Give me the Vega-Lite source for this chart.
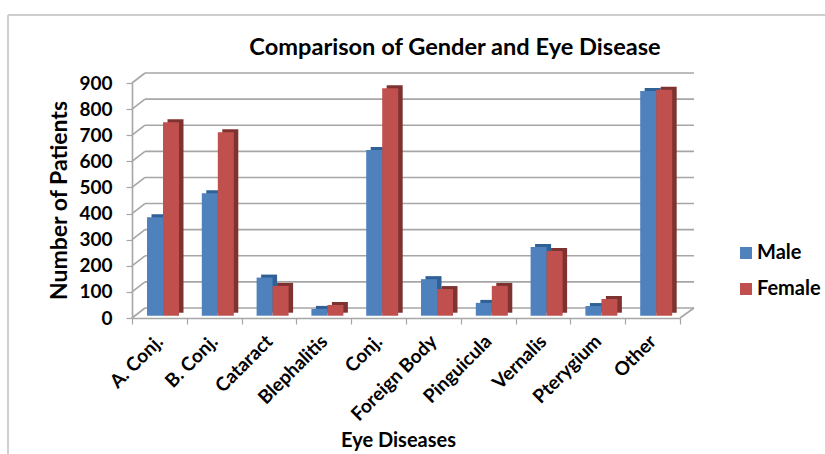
{
"$schema":"https://vega.github.io/schema/vega-lite/v6.json",
"width":548,"height":235,
"autosize":{"type":"none"},
"padding":{"left":132,"top":83,"right":145,"bottom":136},
"background":"white",
"title":{"text":"Comparison of Gender and Eye Disease","font":"Lato","fontWeight":"bold","fontSize":23.6,"color":"#000","anchor":"middle","dx":49,"offset":-45},
"datasets":{
"bars":[
{"disease":"A. Conj.","gender":"Male","patients":377},{"disease":"A. Conj.","gender":"Female","patients":741},
{"disease":"B. Conj.","gender":"Male","patients":469},{"disease":"B. Conj.","gender":"Female","patients":703},
{"disease":"Cataract","gender":"Male","patients":146},{"disease":"Cataract","gender":"Female","patients":114},
{"disease":"Blephalitis","gender":"Male","patients":26},{"disease":"Blephalitis","gender":"Female","patients":41},
{"disease":"Conj.","gender":"Male","patients":635},{"disease":"Conj.","gender":"Female","patients":871},
{"disease":"Foreign Body","gender":"Male","patients":140},{"disease":"Foreign Body","gender":"Female","patients":102},
{"disease":"Pinguicula","gender":"Male","patients":49},{"disease":"Pinguicula","gender":"Female","patients":114},
{"disease":"Vernalis","gender":"Male","patients":263},{"disease":"Vernalis","gender":"Female","patients":248},
{"disease":"Pterygium","gender":"Male","patients":37},{"disease":"Pterygium","gender":"Female","patients":64},
{"disease":"Other","gender":"Male","patients":861},{"disease":"Other","gender":"Female","patients":865}
],
"grid":[{"v":0},{"v":100},{"v":200},{"v":300},{"v":400},{"v":500},{"v":600},{"v":700},{"v":800},{"v":900}]
},
"layer":[
{"data":{"values":[{"a":1}]},
 "mark":{"type":"rule","color":"#BFBFBF","strokeWidth":1.5},
 "encoding":{"x":{"value":-124},"x2":{"value":700},"y":{"value":-68}}},
{"data":{"values":[{"a":1}]},
 "mark":{"type":"rule","color":"#BFBFBF","strokeWidth":1.5},
 "encoding":{"x":{"value":-124},"y":{"value":-68},"y2":{"value":380}}},
{"data":{"name":"grid"},
 "mark":{"type":"rule","color":"#A6A6A6","strokeWidth":1.6,"xOffset":13,"x2Offset":14,"yOffset":-10,"y2Offset":-10},
 "encoding":{"x":{"value":0},"x2":{"value":548},
  "y":{"field":"v","type":"quantitative","scale":{"domain":[0,900],"nice":false},
   "axis":{"title":"Number of Patients","titleFont":"Lato","titleFontSize":23,"titleFontWeight":"bold","titleColor":"#000","titleX":-61,"titleY":117,
    "values":[0,100,200,300,400,500,600,700,800,900],"labelFont":"Lato","labelFontSize":19,"labelFontWeight":"bold","labelColor":"#000","labelPadding":14,"labelOverlap":false,"labelBound":false,"labelFlush":false,
    "grid":false,"domainColor":"#A6A6A6","domainWidth":1.6,"tickColor":"#A6A6A6","tickWidth":1.2,"tickSize":6}}}},
{"data":{"name":"grid"},
 "mark":{"type":"rule","color":"#A6A6A6","strokeWidth":1.6,"x2Offset":13,"y2Offset":-10},
 "encoding":{"x":{"value":0},"x2":{"value":0},"y":{"field":"v","type":"quantitative","axis":null},"y2":{"field":"v"}}},
{"data":{"values":[{"v":0}]},
 "mark":{"type":"rule","color":"#A6A6A6","strokeWidth":1.6,"x2Offset":14,"y2Offset":-10},
 "encoding":{"x":{"value":548},"x2":{"value":548},"y":{"field":"v","type":"quantitative","axis":null},"y2":{"field":"v"}}},
{"data":{"name":"bars"},
 "mark":{"type":"bar","yOffset":-5.3,"y2Offset":-5.3},
 "encoding":{
  "x":{"field":"disease","type":"nominal","sort":null,"scale":{"paddingInner":0,"paddingOuter":0},
   "axis":{"title":"Eye Diseases","titleFont":"Lato","titleFontSize":20,"titleFontWeight":"bold","titleColor":"#000","titleX":266,"titleY":112,
    "labelFont":"Lato","labelFontSize":19,"labelFontWeight":"bold","labelColor":"#000","labelAngle":-45,"labelAlign":"right","labelBaseline":"middle","labelPadding":14,"labelOverlap":false,
    "tickBand":"extent","domainColor":"#A6A6A6","domainWidth":1.6,"tickColor":"#A6A6A6","tickWidth":1.2,"tickSize":6}},
  "xOffset":{"field":"gender","type":"nominal","sort":["Male","Female"],"scale":{"paddingInner":0,"paddingOuter":0.7125,"align":0.855}},
  "y":{"field":"patients","type":"quantitative","axis":null},
  "color":{"field":"gender","type":"nominal","legend":null,"scale":{"domain":["Male","Female"],"range":["#2F6196","#7F3331"]}}
 }},
{"data":{"name":"bars"},
 "mark":{"type":"bar","yOffset":-2.3,"y2Offset":-2.3},
 "encoding":{
  "x":{"field":"disease","type":"nominal","sort":null},
  "xOffset":{"field":"gender","type":"nominal","sort":["Male","Female"],"scale":{"paddingInner":0,"paddingOuter":0.7125,"align":0.658}},
  "y":{"field":"patients","type":"quantitative","axis":null},
  "color":{"field":"gender","type":"nominal","scale":{"domain":["Male","Female"],"range":["#4F81BD","#C0504D"]},
   "legend":{"title":null,"orient":"none","legendX":604,"legendY":160,"symbolType":"square","symbolSize":144,"symbolStrokeWidth":0,"symbolOpacity":1,"labelFont":"Lato","labelFontSize":20,"labelFontWeight":"bold","labelColor":"#000","labelOffset":1,"rowPadding":16}}
 }}
],
"resolve":{"scale":{"color":"independent","xOffset":"independent"},"axis":{"y":"independent"}},
"config":{"view":{"stroke":null}}
}
